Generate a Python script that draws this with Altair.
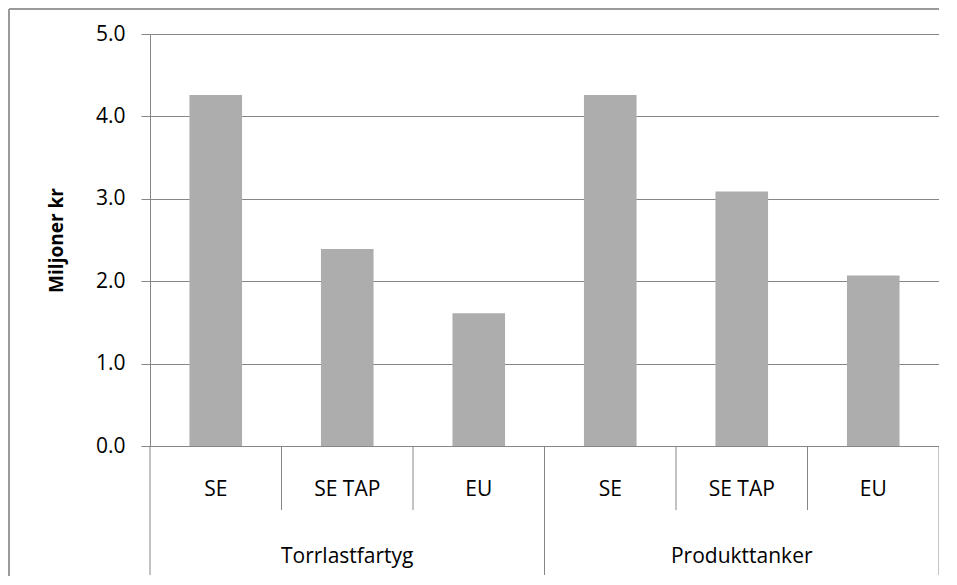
import altair as alt
import pandas as pd

groups = ["Torrlastfartyg", "Torrlastfartyg", "Torrlastfartyg",
          "Produkttanker", "Produkttanker", "Produkttanker"]
subs = ["SE", "SE TAP", "EU", "SE", "SE TAP", "EU"]
values = [4.26, 2.39, 1.61, 4.26, 3.09, 2.07]
y_ticks = [0, 1, 2, 3, 4, 5]

keys = [f"{g}|{s}" for g, s in zip(groups, subs)]
df = pd.DataFrame({"key": keys, "group": groups, "sub": subs, "value": values})
pos = df.groupby("group", sort=False).cumcount()
df_first = df[pos == 0]
df_inner = df[pos != 0]
df_mid = df[pos == 1]
df_last = df.tail(1)

W, H = 789, 412
GRAY = "#868686"
FONT_SIZE = 21

xscale = alt.Scale(domain=keys, paddingInner=0, paddingOuter=0)
X = lambda bp=None: (alt.X("key:N", scale=xscale, sort=keys, axis=None)
                     if bp is None else
                     alt.X("key:N", scale=xscale, sort=keys, axis=None, bandPosition=bp))

bars = alt.Chart(df).mark_bar(color="#ADADAD", width=alt.RelativeBandSize(0.4)).encode(
    x=X(),
    y=alt.Y("value:Q",
            scale=alt.Scale(domain=[0, 5], nice=False),
            axis=alt.Axis(values=y_ticks, format=".1f", title="Miljoner kr",
                          titleFontWeight="bold", titleFontSize=19, titlePadding=29,
                          labelFontSize=FONT_SIZE, labelPadding=16, tickSize=9,
                          tickColor=GRAY, domainColor=GRAY, gridColor=GRAY,
                          gridWidth=1, labelColor="black", titleColor="black")),
)

short_sep = alt.Chart(df_inner).mark_rule(color=GRAY, strokeWidth=1).encode(
    x=X(0), y=alt.value(H), y2=alt.value(H + 64))
long_sep = alt.Chart(df_first).mark_rule(color=GRAY, strokeWidth=1).encode(
    x=X(0), y=alt.value(H), y2=alt.value(H + 129))
end_sep = alt.Chart(df_last).mark_rule(color=GRAY, strokeWidth=1).encode(
    x=X(1), y=alt.value(H), y2=alt.value(H + 129))

sub_labels = alt.Chart(df).mark_text(fontSize=FONT_SIZE, color="black", baseline="middle").encode(
    x=X(), y=alt.value(H + 44), text="sub:N")
group_labels = alt.Chart(df_mid).mark_text(fontSize=FONT_SIZE, color="black", baseline="middle").encode(
    x=X(), y=alt.value(H + 111), text="group:N")

one = pd.DataFrame({"a": [0]})
frame_left = alt.Chart(one).mark_rule(color="#9a9a9a", strokeWidth=2).encode(
    x=alt.value(-141), y=alt.value(-25), y2=alt.value(H + 132))
frame_top = alt.Chart(one).mark_rule(color="#9a9a9a", strokeWidth=2).encode(
    x=alt.value(-141), x2=alt.value(W), y=alt.value(-25))

chart = alt.layer(
    frame_left, frame_top, bars, short_sep, long_sep, end_sep, sub_labels, group_labels
).properties(
    width=W, height=H,
    autosize="none",
    padding={"left": 142, "top": 26, "right": 0, "bottom": 130},
).configure(font="Open Sans").configure_view(stroke=None)

chart.save("out.html", embed_options={"renderer": "svg", "actions": False})
